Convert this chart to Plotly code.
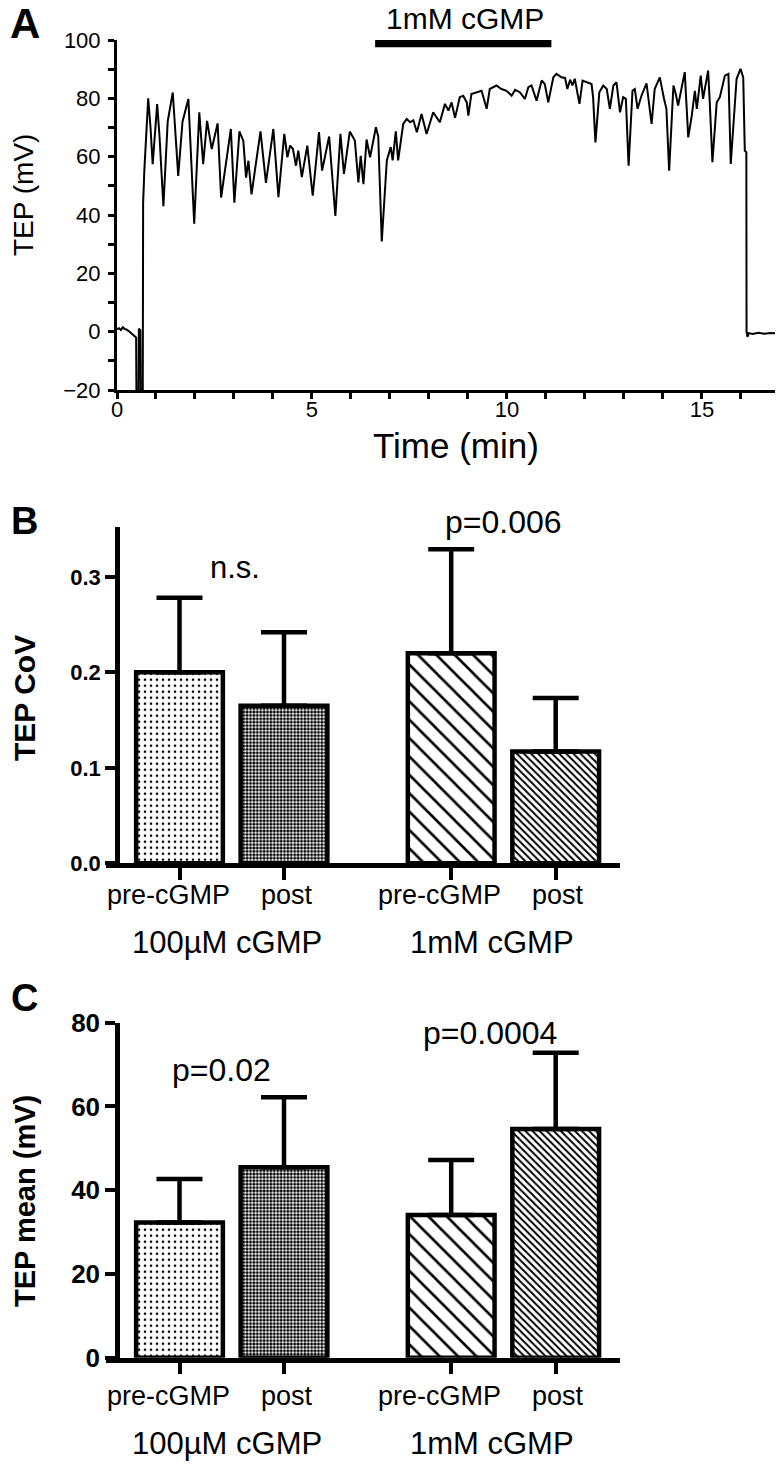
import plotly.graph_objects as go

# ---------------- Panel A data (trace) ----------------
trace_time = [0.00, 0.05, 0.10, 0.15, 0.20, 0.25, 0.30, 0.35, 0.40, 0.45, 0.49, 0.50, 0.55, 0.56, 0.60, 0.61, 0.66,
              0.67, 0.70, 0.80, 0.86, 0.915, 1.03, 1.09, 1.19, 1.30, 1.43, 1.57, 1.68, 1.83, 1.98, 2.11, 2.21, 2.31,
              2.43, 2.58, 2.67, 2.92, 3.01, 3.14, 3.24, 3.31, 3.37, 3.45, 3.68, 3.82, 4.01, 4.14, 4.29, 4.37, 4.44,
              4.51, 4.59, 4.65, 4.74, 4.88, 5.02, 5.18, 5.26, 5.44, 5.60, 5.73, 5.82, 5.97, 6.10, 6.19, 6.25, 6.32,
              6.40, 6.49, 6.64, 6.70, 6.79, 6.92, 7.02, 7.07, 7.15, 7.21, 7.34, 7.43, 7.52, 7.60, 7.69, 7.81, 7.94,
              8.11, 8.28, 8.41, 8.50, 8.58, 8.67, 8.79, 8.88, 8.97, 9.01, 9.09, 9.22, 9.35, 9.48, 9.56, 9.73, 9.86,
              9.99, 10.12, 10.21, 10.33, 10.46, 10.55, 10.63, 10.76, 10.89, 10.97, 11.06, 11.19, 11.27, 11.40, 11.49,
              11.55, 11.62, 11.68, 11.74, 11.86, 11.94, 12.04, 12.17, 12.21, 12.27, 12.37, 12.47, 12.56, 12.64,
              12.73, 12.81, 12.90, 12.98, 13.05, 13.12, 13.22, 13.28, 13.35, 13.45, 13.58, 13.71, 13.79, 13.92,
              14.03, 14.09, 14.16, 14.27, 14.33, 14.39, 14.56, 14.65, 14.74, 14.82, 14.87, 14.97, 15.03, 15.16,
              15.20, 15.27, 15.38, 15.46, 15.59, 15.68, 15.74, 15.89, 15.99, 16.06, 16.10, 16.14, 16.145, 16.17,
              16.20, 16.30, 16.45, 16.60, 16.75, 16.90, 17.10]
trace_tep = [0.8, 1.2, 0.6, 1.5, 0.9, 0.7, 0.2, -0.3, -0.8, -1.6, -2.0, -25, -25, 1.0, 0.5, -25, -25,
             44, 55, 80, 70, 57.4, 78, 67, 43, 72, 82, 53.4, 72, 79.8, 37, 75.2, 57.4, 72.3,
             62.6, 71.4, 46, 69.5, 44.2, 68.7, 65.4, 52.8, 58.6, 47.1, 68.7, 51, 69.5, 46.1, 67.8, 59.8, 63.8,
             62.7, 56.9, 62.1, 53, 63.8, 46.6, 68.4, 55.2, 66.9, 39.7, 67.8, 54.1, 68.6, 65.5, 51.2, 60.3, 50.6,
             65.9, 59.8, 70.1, 66.9, 30.9, 58.7, 63.3, 58.7, 68.7, 58.7, 71.2, 72.9, 71.8, 72.5, 68.4, 74.6, 67.8,
             75.2, 71.8, 78.1, 75.8, 78.6, 73.3, 80.4, 80.9, 78.6, 74.1, 81.5, 82.1, 82.6, 76.4, 83.2, 84.4, 83.2,
             82.6, 80.9, 82.9, 82.1, 79.8, 83.8, 84.4, 79.2, 86.1, 84.9, 78.6, 87.2, 88.4, 87.2, 87.0,
             83.2, 86.4, 84.4, 86.7, 78.1, 86.1, 85.5, 84.9, 80.4, 64.9, 82.1, 84.4, 83.2, 76.4,
             84.4, 85.5, 75.2, 80.4, 79.8, 56.9, 82.6, 83.2, 76.4, 80.9, 85.1, 71.2, 83.2, 87.2,
             79.8, 76.4, 55.2, 84.4, 81.5, 77.5, 89.0, 66.6, 74.1, 82.6, 76.4, 87.8, 79.8, 89.5,
             79.2, 58.1, 78.6, 80.4, 87.8, 88.4, 57.5, 86.7, 90.1, 87.2, 62.1, 61.5, 0.0, -1.8,
             -0.5, -0.8, -0.4, -0.7, -0.5, -0.6, -0.6]
drug_label = "1mM cGMP"
drug_start = 6.62
drug_end = 11.14

# ---------------- Panels B and C data ----------------
bar_labels = ["pre-cGMP", "post", "pre-cGMP", "post"]
bar_pos = [0, 1, 2.6, 3.6]
group_labels = ["100\u00b5M cGMP", "1mM cGMP"]
cov_mean = [0.200, 0.165, 0.220, 0.117]
cov_err = [0.078, 0.077, 0.109, 0.056]
tep_mean = [32.3, 45.5, 34.1, 54.6]
tep_err = [10.4, 16.7, 13.1, 18.2]
cov_sig = ["n.s.", "p=0.006"]
tep_sig = ["p=0.02", "p=0.0004"]

# page is shown with the browser's default 8px body margin
OFF = 8
W, H = 783 - OFF, 1466 - OFF
FONT = "Liberation Sans, Arial, Helvetica, sans-serif"


def px(x):
    return (x - OFF) / W


def py(y):
    return 1 - (y - OFF) / H


fig = go.Figure()

fig.add_trace(go.Scatter(x=trace_time, y=trace_tep, mode="lines",
                         line=dict(color="black", width=2), xaxis="x", yaxis="y",
                         hoverinfo="skip"))

patterns = dict(shape=[".", ".", "\\", "\\"], size=[6, 3.4, 13, 5], solidity=[0.15, 0.6, 0.2, 0.4],
                fgcolor="black", bgcolor="white", fgopacity=1)

fig.add_trace(go.Bar(x=bar_pos, y=cov_mean, width=0.83, xaxis="x2", yaxis="y2",
                     marker=dict(color="white", line=dict(color="black", width=4.5), pattern=patterns),
                     error_y=dict(type="data", symmetric=False, array=cov_err, arrayminus=[0] * 4,
                                  color="black", thickness=4.5, width=23)))
fig.add_trace(go.Bar(x=bar_pos, y=tep_mean, width=0.83, xaxis="x3", yaxis="y3",
                     marker=dict(color="white", line=dict(color="black", width=4.5), pattern=patterns),
                     error_y=dict(type="data", symmetric=False, array=tep_err, arrayminus=[0] * 4,
                                  color="black", thickness=4.5, width=23)))

axA = dict(showline=True, linecolor="black", showgrid=False, zeroline=False, ticks="outside",
           tickcolor="black", tickfont=dict(family=FONT, size=22, color="black"))

bar_x = dict(domain=[px(106), px(620)], range=[-0.7033, 4.2153], showline=True, linecolor="black",
             linewidth=4.5, showgrid=False, zeroline=False, ticks="outside", ticklen=12, tickwidth=4,
             tickcolor="black", tickvals=bar_pos, showticklabels=False)
bar_y = dict(anchor="free", position=px(117), showline=True, linecolor="black", linewidth=4.5,
             showgrid=False, zeroline=False, ticks="outside", ticklen=10, tickwidth=4, tickcolor="black")

fig.update_layout(
    width=W, height=H, margin=dict(l=0, r=0, t=0, b=0, autoexpand=False),
    paper_bgcolor="white", plot_bgcolor="white", showlegend=False,
    font=dict(family=FONT, color="black"),
    xaxis=dict(axA, domain=[px(117), 1.0], range=[0, 17.08], anchor="y", linewidth=3,
               tickvals=[0, 5, 10, 15], ticklen=6, tickwidth=2.5, ticklabelstandoff=-8,
               minor=dict(dtick=1, ticks="outside", ticklen=6, tickwidth=2.5, tickcolor="black")),
    yaxis=dict(axA, domain=[py(390), py(40)], range=[-20, 100], anchor="x", linewidth=3,
               tickvals=[-20, 0, 20, 40, 60, 80, 100], ticklen=6, tickwidth=2.5, ticklabelstandoff=3,
               minor=dict(dtick=10, ticks="outside", ticklen=6, tickwidth=2.5, tickcolor="black")),
    xaxis2=dict(bar_x, anchor="y2"),
    yaxis2=dict(bar_y, domain=[py(863.3), py(526.7)], range=[0, 0.3525],
                tickvals=[0, 0.1, 0.2, 0.3], ticktext=["0.0", "0.1", "0.2", "0.3"],
                tickfont=dict(family=FONT, size=22, color="black", weight="bold")),
    xaxis3=dict(bar_x, anchor="y3"),
    yaxis3=dict(bar_y, domain=[py(1357.7), py(1022.7)], range=[0, 80],
                tickvals=[0, 20, 40, 60, 80],
                tickfont=dict(family=FONT, size=26, color="black", weight="bold")),
)

fig.add_shape(type="rect", xref="x", yref="y", x0=drug_start, x1=drug_end, y0=97.5, y1=100.4,
              fillcolor="black", line=dict(width=0))


def ann(text, x, y, size, bold=False, angle=0):
    fig.add_annotation(text=text, x=px(x), y=py(y), xref="paper", yref="paper", showarrow=False,
                       xanchor="center", yanchor="middle", textangle=angle,
                       font=dict(family=FONT, size=size, color="black", weight="bold" if bold else "normal"))


# category tick labels, placed under the bars via the bar axes
label_shift = [-11, 3, -12, 2]
for xa, ylab in (("x2", 895), ("x3", 1396)):
    for pos, lab, sh in zip(bar_pos, bar_labels, label_shift):
        fig.add_annotation(text=lab, x=pos, xref=xa, y=py(ylab), yref="paper", showarrow=False,
                           xanchor="center", yanchor="middle", xshift=sh,
                           font=dict(family=FONT, size=27, color="black"))

ann("A", 25, 24, 42, bold=True)
ann(drug_label, 465, 18, 30)
ann("TEP (mV)", 24, 195, 28, angle=-90)
ann("Time (min)", 456, 445, 35)

ann("B", 24, 521, 38, bold=True)
ann("TEP CoV", 25, 698, 30, bold=True, angle=-90)
ann(cov_sig[0], 235, 567, 31)
ann(cov_sig[1], 503.5, 522, 32)
ann(group_labels[0], 227.5, 942, 31)
ann(group_labels[1], 491.5, 942, 31)

ann("C", 24, 998, 38, bold=True)
ann("TEP mean (mV)", 25, 1201, 29, bold=True, angle=-90)
ann(tep_sig[0], 221, 1070, 32)
ann(tep_sig[1], 490, 1033, 32)
ann(group_labels[0], 227.5, 1443, 31)
ann(group_labels[1], 491.5, 1443, 31)

fig.write_html("out.html")
